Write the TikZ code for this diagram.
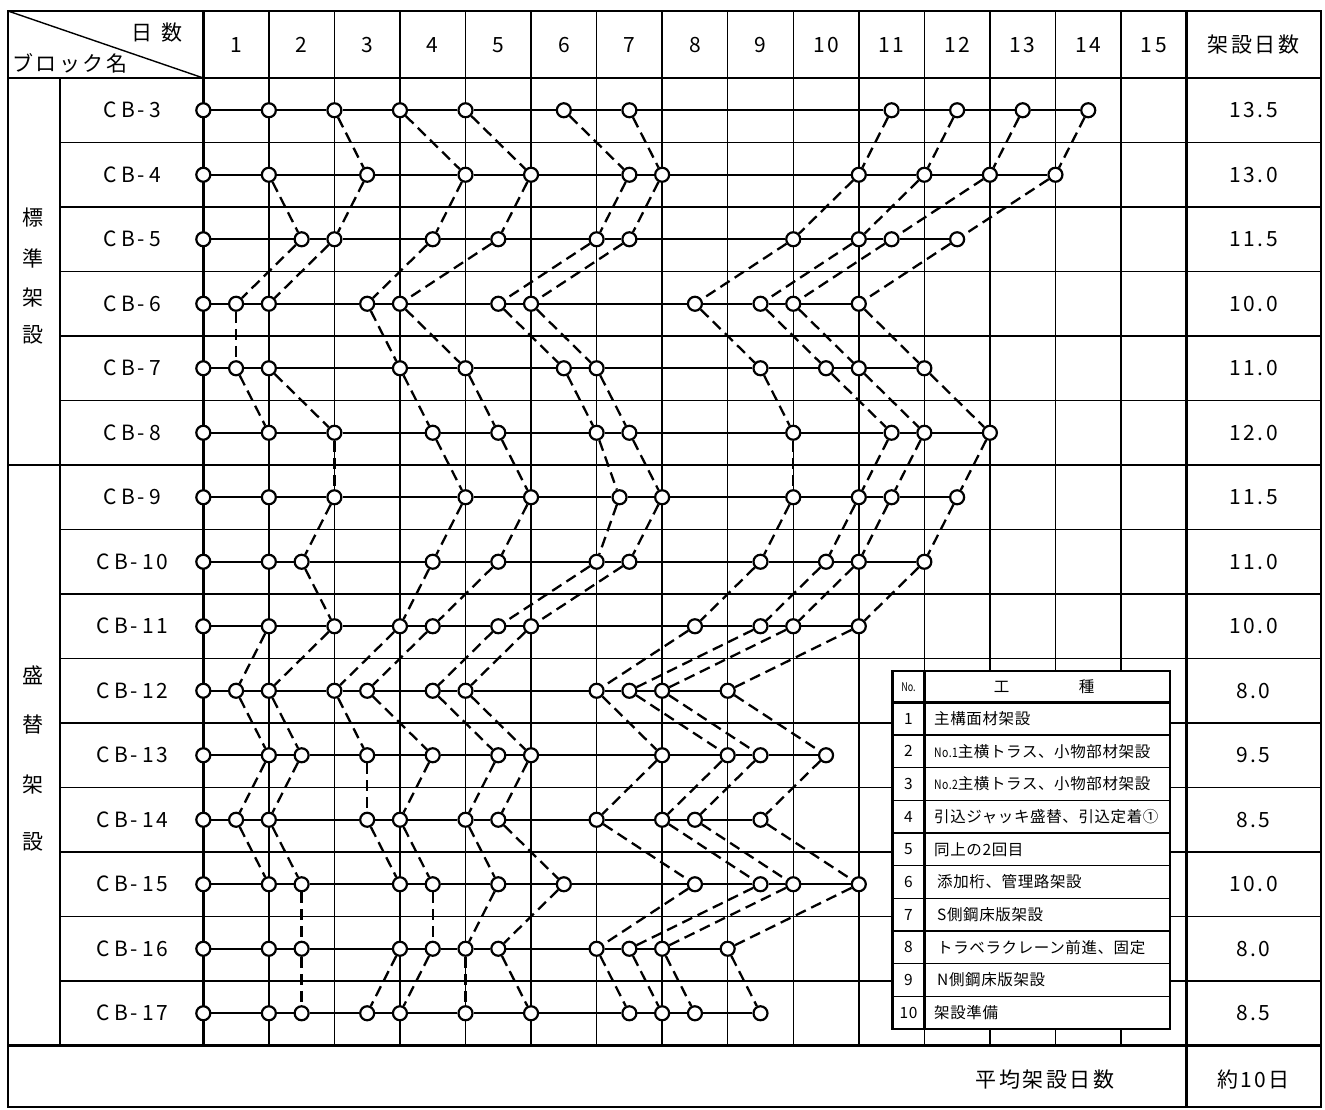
\documentclass[tikz,border=0pt]{standalone}
\usepackage{fontspec}
\usepackage{graphicx}
\setmainfont{Noto Sans CJK JP}
\newfontfamily\jpsp[LetterSpace=12]{Noto Sans CJK JP}
\newfontfamily\jpsm[LetterSpace=4]{Noto Sans CJK JP}
\begin{document}
\begin{tikzpicture}[x=1pt,y=-1pt,
  gridline/.style={line width=1.4pt},
  framel/.style={line width=2.8pt},
  rowline/.style={line width=2.4pt},
  dashline/.style={line width=2.3pt, dash pattern=on 11pt off 6pt},
  dot/.style={circle, draw, fill=white, line width=2.2pt, minimum size=14pt, inner sep=0pt},
  big/.style={font=\jpsp\fontsize{21}{21}\selectfont, inner sep=0pt},
  num/.style={font=\jpsp\fontsize{21}{21}\selectfont, inner sep=0pt},
  leg/.style={font=\jpsm\fontsize{15.5}{15.5}\selectfont, inner sep=0pt},
]
\useasboundingbox (0,0) rectangle (1325,1109);
\fill[white] (0,0) rectangle (1325,1109);
\def\xo{203.3}\def\cw{65.55}\def\yo{78}\def\rh{64.5}

% ---------- table grid ----------
\foreach \k in {1,...,14} \draw[gridline] ({\xo+\k*\cw},11) -- ({\xo+\k*\cw},1045.5);
\foreach \j in {1,...,14} \draw[gridline] (60,{\yo+\j*\rh}) -- (1321,{\yo+\j*\rh});
\draw[line width=1.6pt] (60,78) -- (60,1045.5);
\draw[framel] (8,78) -- (1321,78);
\draw[framel] (8,465) -- (1321,465);
\draw[framel] (8,1045.5) -- (1321,1045.5);
\draw[framel] (\xo,11) -- (\xo,1045.5);
\draw[framel] (1186.6,11) -- (1186.6,1107);
\draw[framel] (8,11) rectangle (1321,1107);
\draw[gridline] (8,11) -- (\xo,78);

% ---------- header ----------
\node[big] (hday) at (157,33) {日\hspace{10pt}数};
\node[big, anchor=west] (hblk) at (12,63) {ブロック名};
\foreach \d in {1,...,15} \node[num] (day\d) at ({\xo+(\d-0.5)*\cw},45) {\d};
\node[big] (hdays) at (1253.5,45) {架設日数};

% ---------- group labels ----------
\node[big] (g1a) at (33,218) {標};
\node[big] (g1b) at (33,258) {準};
\node[big] (g1c) at (33,298) {架};
\node[big] (g1d) at (33,335) {設};
\node[big] (g2a) at (33,675) {盛};
\node[big] (g2b) at (33,725) {替};
\node[big] (g2c) at (33,785) {架};
\node[big] (g2d) at (33,842) {設};

% ---------- block names and totals ----------
\foreach \n [count=\i] in {3,...,17}
  \node[num] (name\i) at (132,{\yo+(\i-0.5)*\rh}) {C\hspace{5pt}B-\hspace{4pt}\n};
\foreach \v [count=\i] in {13.5,13.0,11.5,10.0,11.0,12.0,11.5,11.0,10.0,8.0,9.5,8.5,10.0,8.0,8.5}
  \node[num] (tot\i) at (1253.5,{\yo+(\i-0.5)*\rh}) {\v};

% ---------- bottom row ----------
\node[big] (avg) at (1045,1080) {平均架設日数};
\node[big] (avgv) at (1253.5,1080) {約10日};

% ---------- legend ----------
\fill[white] (892.7,671) rectangle (1170,1029);
\foreach \i in {1,...,9} \draw[gridline] (892.7,{702.3+\i*32.67}) -- (1170,{702.3+\i*32.67});
\draw[line width=2.6pt] (892.7,702.3) -- (1170,702.3);
\draw[line width=2.6pt] (924.3,671) -- (924.3,1029);
\draw[framel] (892.7,671) rectangle (1170,1029);
\node[inner sep=0pt, font=\fontsize{12}{12}\selectfont] (lno) at (908.5,687) {\scalebox{0.75}[1]{No.}};
\node[leg] (lk1) at (1001.7,687) {工};
\node[leg] (lk2) at (1086.7,687) {種};
\foreach \t [count=\i] in {主構面材架設,
  {{\fontsize{13}{13}\selectfont\scalebox{0.8}[1]{No.1}}主横トラス、小物部材架設},
  {{\fontsize{13}{13}\selectfont\scalebox{0.8}[1]{No.2}}主横トラス、小物部材架設},
  引込ジャッキ盛替、引込定着①,
  同上の2回目,
  \hspace{3pt}添加桁、管理路架設,
  \hspace{3pt}S側鋼床版架設,
  \hspace{3pt}トラベラクレーン前進、固定,
  \hspace{3pt}N側鋼床版架設,
  架設準備}{
  \node[leg] (ln\i) at (908.5,{702.3+(\i-0.5)*32.67}) {\i};
  \node[leg, anchor=west] (lt\i) at (934,{702.3+(\i-0.5)*32.67}) {\t};
}

% ---------- schedule nodes ----------
\foreach \r/\ts in {
  1/{0,1,2,3,4,5.5,6.5,10.5,11.5,12.5,13.5},
  2/{0,1,2.5,4,5,6.5,7,10,11,12,13},
  3/{0,1.5,2,3.5,4.5,6,6.5,9,10,10.5,11.5},
  4/{0,0.5,1,2.5,3,4.5,5,7.5,8.5,9,10},
  5/{0,0.5,1,3,4,5.5,6,8.5,9.5,10,11},
  6/{0,1,2,3.5,4.5,6,6.5,9,10.5,11,12},
  7/{0,1,2,4,5,6.35,7,9,10,10.5,11.5},
  8/{0,1,1.5,3.5,4.5,6,6.5,8.5,9.5,10,11},
  9/{0,1,2,3,3.5,4.5,5,7.5,8.5,9,10},
  10/{0,0.5,1,2,2.5,3.5,4,6,6.5,7,8},
  11/{0,1,1.5,2.5,3.5,4.5,5,7,8,8.5,9.5},
  12/{0,0.5,1,2.5,3,4,4.5,6,7,7.5,8.5},
  13/{0,1,1.5,3,3.5,4.5,5.5,7.5,8.5,9,10},
  14/{0,1,1.5,3,3.5,4,4.5,6,6.5,7,8},
  15/{0,1,1.5,2.5,3,4,5,6.5,7,7.5,8.5}}{
  \foreach \t [count=\k from 0] in \ts {
    \node[dot] (r\r-\k) at ({\xo+\t*\cw},{\yo+(\r-0.5)*\rh}) {};
  }
}
% horizontal process lines
\foreach \r in {1,...,15}{
  \foreach \k in {0,...,9}{
    \pgfmathtruncatemacro\kk{\k+1}
    \draw[rowline] (r\r-\k) -- (r\r-\kk);
  }
}
% dashed links between blocks
\foreach \r in {1,...,14}{
  \pgfmathtruncatemacro\nr{\r+1}
  \foreach \k in {1,...,10}{
    \draw[dashline] (r\r-\k) -- (r\nr-\k);
  }
}
% extra vertical link on day-1 line (CB-7 to CB-8)
\draw[dashline] (r5-2) -- (r6-1);
\end{tikzpicture}
\end{document}
